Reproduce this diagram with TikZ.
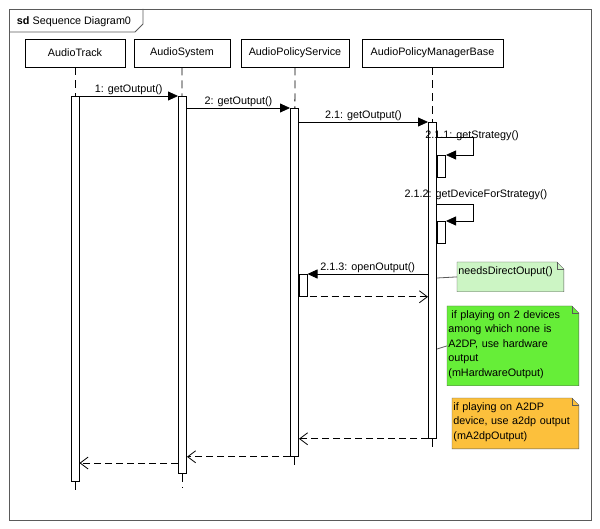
\documentclass[tikz,border=0pt]{standalone}
\usepackage{fontspec}
\setmainfont{Liberation Sans}
\usetikzlibrary{arrows.meta,backgrounds}

\definecolor{notelight}{RGB}{204,245,196}
\definecolor{notegreen}{RGB}{102,238,56}
\definecolor{noteorange}{RGB}{252,192,60}
\definecolor{framegray}{RGB}{90,90,90}

\begin{document}
\begin{tikzpicture}[x=1pt,y=-1pt,line width=0.8pt,font=\fontsize{10.8}{14.5}\selectfont]
				\tikzstyle{head}=[draw,minimum height=28pt,inner sep=0pt]
				\tikzstyle{act}=[draw,fill=white,minimum width=8.2pt,inner sep=0pt,anchor=north]
				\tikzstyle{life}=[dash pattern=on 8pt off 5pt]
				\tikzstyle{msg}=[-{Triangle[length=10pt,width=9pt]}]
				\tikzstyle{ret}=[dash pattern=on 7pt off 4pt,-{Straight Barb[length=8pt,width=12pt]}]
				\tikzstyle{lbl}=[inner sep=1pt]
				\tikzstyle{note}=[anchor=north west,inner sep=1pt,text width=#1,align=left,text height=11pt]
				
				\useasboundingbox (0,0) rectangle (600,529);
				
				% frame
				\node[draw=framegray,minimum width=582pt,minimum height=511pt,anchor=north west,inner sep=0pt](frame) at (9,9){};
				\node[lbl](title) at (74,22){\textbf{sd} Sequence Diagram0};
				\draw[framegray] (frame.north west) ++(0,23) -- ++(126,0) -- ++(8,-8) -- ++(0,-15);
				
				% lifelines
				\node[head,minimum width=100pt](AudioTrack) at (75,53){AudioTrack};
				\node[head,minimum width=96pt](AudioSystem) at (182,53){AudioSystem};
				\node[head,minimum width=108pt](AudioPolicyService) at (295,53){AudioPolicyService};
				\node[head,minimum width=141pt](AudioPolicyManagerBase) at (432.5,53){AudioPolicyManagerBase};
				
				\node[act,minimum height=385pt](at1) at (75,96){};
				\node[act,minimum height=377pt](as1) at (182.5,96){};
				\node[act,minimum height=348pt](aps1) at (294.5,108){};
				\node[act,minimum height=316pt](apm1) at (432.5,122){};
				
				\node[act,minimum height=22pt](apm2) at (441.5,155){};
				\node[act,minimum height=22pt](apm3) at (441.5,221){};
				\node[act,minimum height=22pt](aps2) at (303,274){};
				
				\draw[life] (AudioTrack) -- (at1);
				\draw[life] (AudioSystem) -- (as1);
				\draw[life] (AudioPolicyService) -- (aps1);
				\draw[life] (AudioPolicyManagerBase) -- (apm1);
				
				\draw[life] (at1.south) -- ++(0,12);
				\draw[life] (as1.south) -- ++(0,14);
				\draw[life] (aps1.south) -- ++(0,12);
				\draw[life] (apm1.south) -- ++(0,12);
				
				% calls
				\draw[msg] (at1.north east) -- node[lbl,above]{1: getOutput()} (as1.north west);
				\draw[msg] (as1.east |- aps1.north) -- node[lbl,above]{2: getOutput()} (aps1.north west);
				\draw[msg] (aps1.east |- apm1.north) -- node[lbl,above]{2.1: getOutput()} (apm1.north west);
				
				\node[lbl](l211) at (472,136){2.1.1: getStrategy()};
				\draw[msg] (apm1.east |- 0,137) -- ++(36,0) |- (apm2.north east);
				
				\node[lbl](l212) at (476,195){2.1.2: getDeviceForStrategy()};
				\draw[msg] (apm1.east |- 0,204) -- ++(36,0) |- (apm3.north east);
				
				\draw[msg] (apm1.west |- aps2.north) -- node[lbl,above]{2.1.3: openOutput()} (aps2.north east);
				
				% returns
				\draw[ret] (aps2.south west) -- (aps2.south west -| apm1.west);
				\draw[ret] (apm1.south west) -- (apm1.south west -| aps1.east);
				\draw[ret] (aps1.south west) -- (aps1.south west -| as1.east);
				\draw[ret] (as1.west |- 0,463) -- (at1.east |- 0,463);
				
				% notes
				\node[note=104pt,text depth=16pt](n1) at (457,262){needsDirectOuput()};
				\node[note=129pt,text depth=66pt](n2) at (447,306){\hspace*{3pt}if playing on 2 devices\\among which none is\\A2DP, use hardware\\output\\(mHardwareOutput)};
				\node[note=124pt,text depth=37pt](n3) at (452,398){if playing on A2DP\\device, use a2dp output\\(mA2dpOutput)};
				
				\begin{scope}[on background layer]
				\filldraw[fill=notelight,draw=framegray] (n1.north west) -- ([xshift=-7pt]n1.north east) -- ([yshift=-7pt]n1.north east) -- (n1.south east) -- (n1.south west) -- cycle;
				\draw[framegray] ([xshift=-7pt]n1.north east) |- ([yshift=-7pt]n1.north east);
				\filldraw[fill=notegreen,draw=framegray] (n2.north west) -- ([xshift=-7pt]n2.north east) -- ([yshift=-7pt]n2.north east) -- (n2.south east) -- (n2.south west) -- cycle;
				\draw[framegray] ([xshift=-7pt]n2.north east) |- ([yshift=-7pt]n2.north east);
				\filldraw[fill=noteorange,draw=framegray] (n3.north west) -- ([xshift=-7pt]n3.north east) -- ([yshift=-7pt]n3.north east) -- (n3.south east) -- (n3.south west) -- cycle;
				\draw[framegray] ([xshift=-7pt]n3.north east) |- ([yshift=-7pt]n3.north east);
				\end{scope}
				
				\draw[framegray] (apm1.east |- 0,278) -- (n1.west);
				\draw[framegray] (apm1.east |- 0,349) -- (n2.west);
\end{tikzpicture}
\end{document}
